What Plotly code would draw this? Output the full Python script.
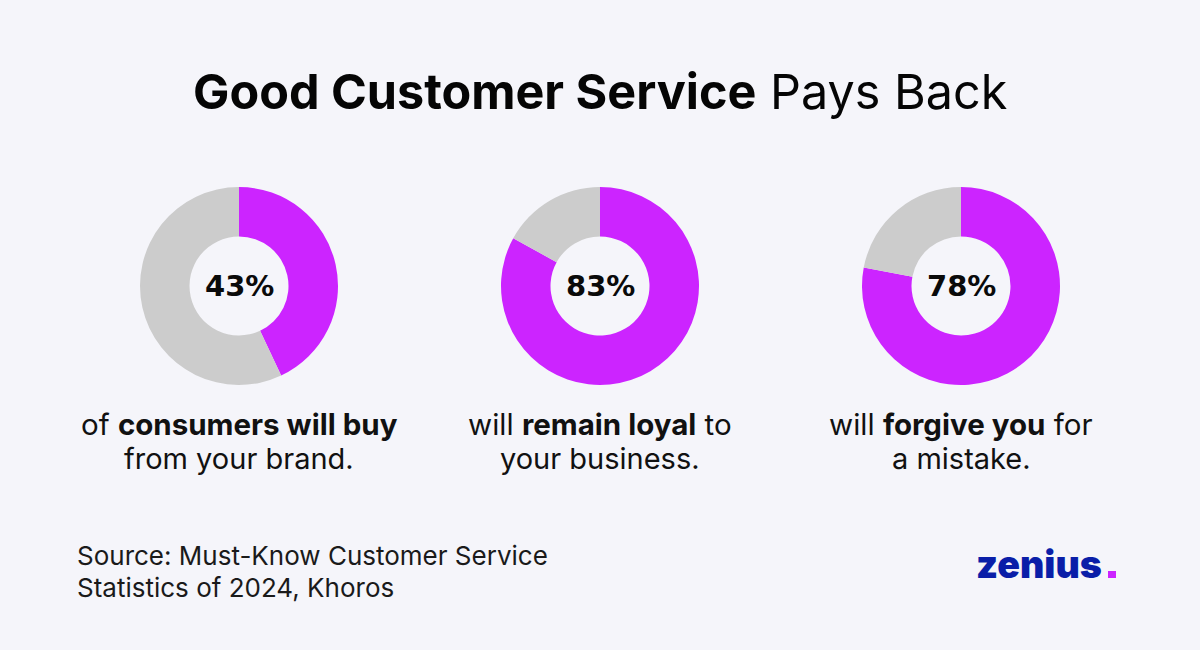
import plotly.graph_objects as go

BG = "#f5f5fa"
PURPLE = "#cc24ff"
GREY = "#cccccc"
BLUE = "#0a1ea8"
FONT = "Inter"

shares = [43, 83, 78]
rest = [57, 17, 22]
centre_labels = ["43%", "83%", "78%"]
caption_first = [
    "of <b>consumers will buy</b>",
    "will <b>remain loyal</b> to",
    "will <b>forgive you</b> for",
]
caption_second = ["from your brand.", "your business.", "a mistake."]
title_text = "<b>Good Customer Service</b> Pays Back"
source_lines = ["Source: Must-Know Customer Service", "Statistics of 2024, Khoros"]
logo_text = "zenius"

W, H = 1200, 650
centres_x = [239, 600, 961]
centre_y = 286
radius = 99


def add_text(fig, x, y, text, size, color, xanchor="center", **font):
    """Place text by pixel position measured from the top-left corner."""
    fig.add_annotation(
        x=x / W, y=1 - y / H, text=text, xref="paper", yref="paper", showarrow=False,
        xanchor=xanchor, yanchor="middle",
        font=dict(size=size, color=color, family=font.pop("family", FONT), **font),
    )


fig = go.Figure()

for i, cx in enumerate(centres_x):
    fig.add_trace(
        go.Pie(
            values=[shares[i], rest[i]],
            hole=0.5,
            sort=False,
            direction="clockwise",
            rotation=0,
            marker=dict(colors=[PURPLE, GREY], line=dict(width=0)),
            textinfo="none",
            hoverinfo="none",
            showlegend=False,
            domain=dict(
                x=[(cx - radius) / W, (cx + radius) / W],
                y=[1 - (centre_y + radius) / H, 1 - (centre_y - radius) / H],
            ),
        )
    )
    add_text(fig, cx, centre_y, f"<b>{centre_labels[i]}</b>", 29, "#0a0a0a", family="DejaVu Sans")
    add_text(fig, cx, 424, caption_first[i], 29.5, "#111111")
    add_text(fig, cx, 458, caption_second[i], 29, "#111111")

add_text(fig, 600, 91, title_text, 48.5, "#050505")
add_text(fig, 75, 555, source_lines[0], 26, "#1a1a1a", xanchor="left")
add_text(fig, 75, 587, source_lines[1], 26, "#1a1a1a", xanchor="left")
add_text(fig, 974, 564, logo_text, 37.5, BLUE, xanchor="left", weight=900)

# square dot of the logo
fig.add_shape(
    type="rect", xref="paper", yref="paper",
    x0=1108 / W, x1=1116 / W, y0=1 - 578 / H, y1=1 - 571 / H,
    fillcolor=PURPLE, line_width=0,
)

fig.update_layout(
    width=W, height=H, margin=dict(l=0, r=0, t=0, b=0),
    paper_bgcolor=BG, plot_bgcolor=BG,
)
fig.write_html(
    "out.html",
    config={"displayModeBar": False},
    post_script=f"document.body.style.margin='0'; document.body.style.background='{BG}';",
)
